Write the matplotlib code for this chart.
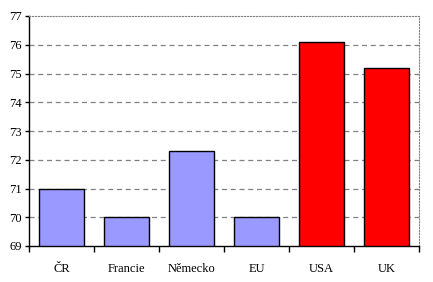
import matplotlib
matplotlib.use("Agg")
import matplotlib.pyplot as plt
import numpy as np

categories = ["ČR", "Francie", "Německo", "EU", "USA", "UK"]
values = [71.0, 70.0, 72.3, 70.0, 76.1, 75.2]
colors = ["#9999FF", "#9999FF", "#9999FF", "#9999FF", "#FF0000", "#FF0000"]
yticks = [69, 70, 71, 72, 73, 74, 75, 76, 77]

plt.rcParams['font.family'] = ['Liberation Serif', 'DejaVu Serif']
fig = plt.figure(figsize=(4.33, 2.82), dpi=100)
ax = fig.add_axes([29/433, 1 - 246/282, 390/433, 230/282])

x = np.arange(len(categories))
base = 69
ax.bar(x, [v - base for v in values], bottom=base, width=0.68, color=colors,
       edgecolor="black", linewidth=1.0, zorder=3)
ax.set_xlim(-0.5, len(categories) - 0.5)
ax.set_ylim(69, 77)
ax.set_yticks(yticks)
ax.set_yticklabels([str(t) for t in yticks], fontsize=9)
ax.set_xticks(x)
ax.set_xticklabels(categories, fontsize=9)
ax.tick_params(axis='x', length=0, pad=12)
ax.set_xticks(np.arange(-0.5, len(categories)), minor=True)
ax.tick_params(axis='x', which='minor', length=4, direction='out', width=1)
ax.tick_params(axis='y', length=3, direction='out', width=1, pad=2)
for t in yticks[1:-1]:
    ax.axhline(t, color="#808080", linestyle=(0, (4, 3)), linewidth=0.9, zorder=1)
ax.spines['top'].set_color("#808080")
ax.spines['top'].set_linestyle(":")
ax.spines['right'].set_color("#808080")
ax.spines['right'].set_linestyle(":")
ax.spines['left'].set_linewidth(1)
ax.spines['bottom'].set_linewidth(1)
fig.savefig("out.png", dpi=100)
